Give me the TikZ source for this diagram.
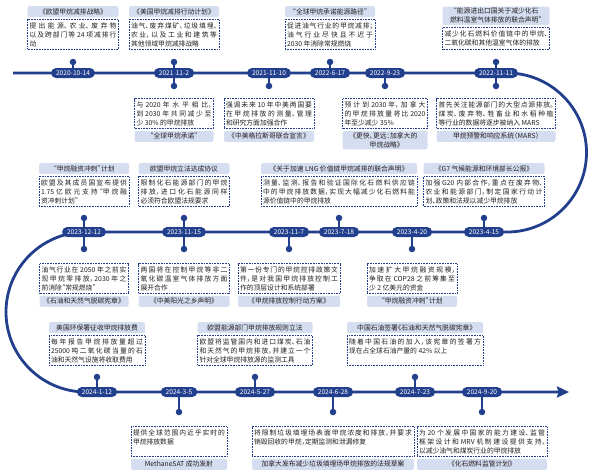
\documentclass[tikz,border=0pt]{standalone}
\usepackage{fontspec}
\setmainfont{Noto Sans CJK SC}[RawFeature=+halt]
\XeTeXlinebreaklocale "zh"
\XeTeXlinebreakskip=0pt plus 3pt
\XeTeXlinebreakpenalty=10000
\hbadness=10000
\usetikzlibrary{arrows.meta, positioning}
\definecolor{navy}{HTML}{213F8C}
\definecolor{tabblue}{HTML}{D5DEF0}
\definecolor{ink}{HTML}{231F20}

\begin{document}
\begin{tikzpicture}[x=1pt,y=-1pt,
  datebox/.style={fill=navy,text=white,rounded corners=5pt,minimum height=10pt,inner xsep=5pt,inner ysep=0pt,font=\fontsize{6.6}{7}\selectfont},
  dotnode/.style={circle,fill=navy,inner sep=0pt,minimum size=6.5pt},
  stemline/.style={navy,line width=1.3pt},
  infobox/.style={draw=navy,line width=0.6pt,dash pattern=on 0.7pt off 0.9pt,fill=white,inner xsep=2pt,inner ysep=2.5pt,text height=6.3pt,text depth=18.5pt,align=justify,text=ink,font=\fontsize{6.8}{9}\selectfont},
  tabbox/.style={fill=tabblue,rounded corners=2pt,inner xsep=2pt,inner ysep=1.5pt,minimum height=11pt,align=flush center,text=ink,font=\fontsize{6.8}{9}\selectfont}]
\useasboundingbox (0,0) rectangle (593,475);

\coordinate (start) at (13,73);
\coordinate (tip) at (569,392);
\draw[navy,line width=2.8pt,-{Stealth[length=12pt,width=11pt,inset=1.5pt]}] (start) -- (507,73) arc[start angle=90,end angle=-90,radius=79.5pt] -- (86,232) arc[start angle=90,end angle=270,radius=80pt] -- (tip);

% 2020-2022
\node[datebox] (d1) at (73,73) {2020-10-14};
\node[dotnode] (p1) at (73,62) {};
\node[infobox,text width=87pt,above=9pt of p1] (b1) {提出能源、农业、废弃物\linebreak 以及跨部门等 24 项减排行\linebreak 动};
\node[tabbox,text width=87pt,above=1.8pt of b1] (t1) {《欧盟甲烷减排战略》};
\draw[stemline] (d1) -- (p1);

\node[datebox] (d2) at (174,73) {2021-11-2};
\node[dotnode] (p2) at (174,62) {};
\node[dotnode] (q2) at (174,86) {};
\node[infobox,text width=86pt,above=9pt of p2] (b2) {油气、废弃煤矿、垃圾填埋、\linebreak 农业，以及工业和建筑等\linebreak 其他领域甲烷减排战略};
\node[tabbox,text width=86pt,above=1.8pt of b2] (t2) {《美国甲烷减排行动计划》};
\node[infobox,text width=75pt,below=9pt of q2] (c2) {与 2020 年水平相比，\linebreak 到 2030 年共同减少至\linebreak 少 30\% 的甲烷排放};
\node[tabbox,text width=75pt,below=1.8pt of c2] (u2) {“全球甲烷承诺”};
\draw[stemline] (p2) -- (q2);

\node[datebox] (d3) at (269,73) {2021-11-10};
\node[dotnode] (q3) at (269,86) {};
\node[infobox,text width=86pt,below=9pt of q3] (c3) {强调未来 10 年中美两国要\linebreak 在甲烷排放的测量、管理\linebreak 和研究方面加强合作};
\node[tabbox,text width=86pt,below=1.8pt of c3] (u3) {《中美格拉斯哥联合宣言》};
\draw[stemline] (d3) -- (q3);

\node[datebox] (d4) at (330,73) {2022-6-17};
\node[dotnode] (p4) at (330,62) {};
\node[infobox,text width=86pt,above=9pt of p4] (b4) {促进油气行业的甲烷减排；\linebreak 油气行业尽快且不迟于\linebreak 2030 年消除常规燃烧};
\node[tabbox,text width=86pt,above=1.8pt of b4] (t4) {“全球甲烷承诺能源路径”};
\draw[stemline] (d4) -- (p4);

\node[datebox] (d5) at (385,73) {2022-9-23};
\node[dotnode] (q5) at (385,86) {};
\node[infobox,text width=81pt,below=9pt of q5] (c5) {预计到 2030 年，加拿大\linebreak 的甲烷排放量将比 2020\linebreak 年至少减少 35\%};
\node[tabbox,text width=81pt,below=1.8pt of c5] (u5) {《更快、更远：加拿大的\\甲烷战略》};
\draw[stemline] (d5) -- (q5);

\node[datebox] (d6) at (496,73) {2022-11-11};
\node[dotnode] (p6) at (496,62) {};
\node[dotnode] (q6) at (496,86) {};
\node[infobox,text width=103pt,text depth=10.7pt,above=9pt of p6] (b6) {减少化石燃料价值链中的甲烷、\linebreak 二氧化碳和其他温室气体的排放};
\node[tabbox,text width=103pt,above=1.8pt of b6] (t6) {“能源进出口国关于减少化石\\燃料温室气体排放的联合声明”};
\node[infobox,text width=115pt,below=9pt of q6] (c6) {首先关注能源部门的大型点源排放。\linebreak 煤炭、废弃物、牲畜业和水稻种植\linebreak 等行业的数据将逐步被纳入 MARS};
\node[tabbox,text width=115pt,below=1.8pt of c6] (u6) {甲烷预警和响应系统（MARS）};
\draw[stemline] (d6) -- (p6);
\draw[stemline] (d6) -- (q6);

% 2023
\node[datebox] (d7) at (84,232) {2023-12-12};
\node[dotnode] (p7) at (84,218) {};
\node[dotnode] (q7) at (84,249) {};
\node[infobox,text width=86pt,above=8pt of p7] (b7) {欧盟及其成员国宣布提供\linebreak 1.75 亿欧元支持“甲烷融\linebreak 资冲刺计划”};
\node[tabbox,text width=86pt,above=1.8pt of b7] (t7) {“甲烷融资冲刺”计划};
\node[infobox,text width=85pt,below=11pt of q7] (c7) {油气行业在 2050 年之前实\linebreak 现甲烷零排放，2030 年之\linebreak 前消除“常规燃烧”};
\node[tabbox,text width=85pt,below=1.8pt of c7] (u7) {《石油和天然气脱碳宪章》};
\draw[stemline] (p7) -- (q7);

\node[datebox] (d8) at (184,232) {2023-11-15};
\node[dotnode] (p8) at (184,218) {};
\node[dotnode] (q8) at (184,249) {};
\node[infobox,text width=87pt,above=8pt of p8] (b8) {限制化石能源部门的甲烷\linebreak 排放，进口化石能源同样\linebreak 必须符合欧盟法规要求};
\node[tabbox,text width=87pt,above=1.8pt of b8] (t8) {欧盟甲烷立法达成协议};
\node[infobox,text width=87pt,below=11pt of q8] (c8) {两国将在控制甲烷等非二\linebreak 氧化碳温室气体排放方面\linebreak 展开合作};
\node[tabbox,text width=87pt,below=1.8pt of c8] (u8) {《中美阳光之乡声明》};
\draw[stemline] (p8) -- (q8);

\node[datebox] (d9) at (289,232) {2023-11-7};
\node[dotnode] (q9) at (289,249) {};
\node[infobox,text width=98pt,below=11pt of q9] (c9) {第一份专门的甲烷控排政策文\linebreak 件，是对我国甲烷排放控制工\linebreak 作的顶层设计和系统部署};
\node[tabbox,text width=98pt,below=1.8pt of c9] (u9) {《甲烷排放控制行动方案》};
\draw[stemline] (d9) -- (q9);

\node[datebox] (d10) at (339,232) {2023-7-18};
\node[dotnode] (p10) at (339,218) {};
\node[infobox,text width=152pt,above=8pt of p10] (b10) {测量、监测、报告和验证国际化石燃料供应链\linebreak 中的甲烷排放数据，实现大幅减少化石燃料能\linebreak 源价值链中的甲烷排放};
\node[tabbox,text width=152pt,above=1.8pt of b10] (t10) {《关于加速 LNG 价值链甲烷减排的联合声明》};
\draw[stemline] (d10) -- (p10);

\node[datebox] (d11) at (412,232) {2023-4-20};
\node[dotnode] (q11) at (412,249) {};
\node[infobox,text width=86pt,below=11pt of q11] (c11) {加速扩大甲烷融资规模，\linebreak 争取在 COP28 之前筹集至\linebreak 少 2 亿美元的资金};
\node[tabbox,text width=86pt,below=1.8pt of c11] (u11) {“甲烷融资冲刺”计划};
\draw[stemline] (d11) -- (q11);

\node[datebox] (d12) at (484,232) {2023-4-15};
\node[dotnode] (p12) at (484,218) {};
\node[infobox,text width=117pt,above=8pt of p12] (b12) {加强 G20 内部合作，重点在废弃物、\linebreak 农业和能源部门，制定国家行动计\linebreak 划、政策和法规以减少甲烷排放};
\node[tabbox,text width=117pt,above=1.8pt of b12] (t12) {《G7 气候能源和环境部长公报》};
\draw[stemline] (d12) -- (p12);

% 2024
\node[datebox] (d13) at (97,392) {2024-1-12};
\node[dotnode] (p13) at (97,377) {};
\node[infobox,text width=92pt,above=8pt of p13] (b13) {每年报告甲烷排放量超过\linebreak 25000 吨二氧化碳当量的石\linebreak 油和天然气设施将收取费用};
\node[tabbox,text width=92pt,above=1.8pt of b13] (t13) {美国环保署征收甲烷排放费};
\draw[stemline] (d13) -- (p13);

\node[datebox] (d14) at (179,392) {2024-3-5};
\node[dotnode] (q14) at (179,412) {};
\node[infobox,text width=92pt,below=11pt of q14] (c14) {提供全球范围内近乎实时的\linebreak 甲烷排放数据};
\node[tabbox,text width=92pt,below=1.8pt of c14] (u14) {MethaneSAT 成功发射};
\draw[stemline] (d14) -- (q14);

\node[datebox] (d15) at (255,392) {2024-5-27};
\node[dotnode] (p15) at (255,377) {};
\node[infobox,text width=111pt,above=8pt of p15] (b15) {欧盟将监管国内和进口煤炭、石油\linebreak 和天然气的甲烷排放，并建立一个\linebreak 针对全球甲烷排放源的监测工具};
\node[tabbox,text width=111pt,above=1.8pt of b15] (t15) {欧盟能源部门甲烷排放规则立法};
\draw[stemline] (d15) -- (p15);

\node[datebox] (d16) at (333,392) {2024-6-28};
\node[dotnode] (q16) at (333,412) {};
\node[infobox,text width=158pt,below=11pt of q16] (c16) {将限制垃圾填埋场表面甲烷浓度和排放，并要求\linebreak 销毁回收的甲烷，定期监测和泄漏修复};
\node[tabbox,text width=158pt,below=1.8pt of c16] (u16) {加拿大发布减少垃圾填埋场甲烷排放的法规草案};
\draw[stemline] (d16) -- (q16);

\node[datebox] (d17) at (415,392) {2024-7-23};
\node[dotnode] (p17) at (415,377) {};
\node[infobox,text width=132pt,above=8pt of p17] (b17) {随着中国石油的加入，该宪章的签署方\linebreak 现在占全球石油产量的 42\% 以上};
\node[tabbox,text width=132pt,above=1.8pt of b17] (t17) {中国石油签署《石油和天然气脱碳宪章》};
\draw[stemline] (d17) -- (p17);

\node[datebox] (d18) at (482,392) {2024-9-20};
\node[dotnode] (q18) at (482,412) {};
\node[infobox,text width=126pt,below=11pt of q18] (c18) {为 20 个发展中国家的能力建设、监管\linebreak 框架设计和 MRV 机制建设提供支持，\linebreak 以减少油气和煤炭行业的甲烷排放};
\node[tabbox,text width=126pt,below=1.8pt of c18] (u18) {《化石燃料监管计划》};
\draw[stemline] (d18) -- (q18);
\end{tikzpicture}
\end{document}
